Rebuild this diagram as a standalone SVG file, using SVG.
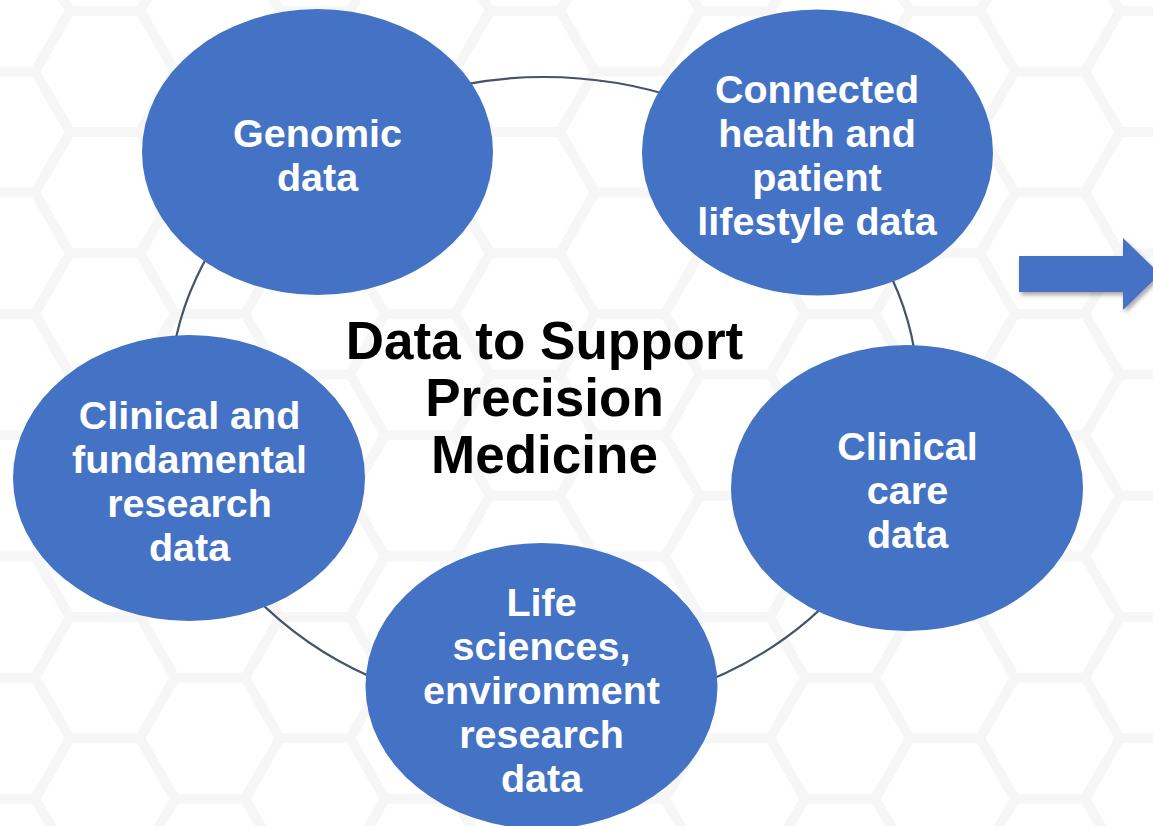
<svg xmlns="http://www.w3.org/2000/svg" width="1153" height="826" viewBox="0 0 1153 826">
  <defs>
    <!-- flat-top honeycomb, side 70 -->
    <pattern id="honeycomb" patternUnits="userSpaceOnUse" x="0" y="10.76" width="210" height="121.24">
      <path d="M70,0 H140 L175,60.62 L140,121.24 H70 L35,60.62 Z M175,60.62 H210 M0,60.62 H35" fill="none" stroke="#f6f6f6" stroke-width="10" stroke-linejoin="round"/>
    </pattern>
    <filter id="arrowShadow" x="-10%" y="-20%" width="130%" height="160%">
      <feDropShadow dx="2" dy="3" stdDeviation="2" flood-color="#000" flood-opacity="0.35"/>
    </filter>
    <style>
      .node { fill: #4472C4; }
      .label { font-family: "Liberation Sans", Arial, sans-serif; font-weight: bold; font-size: 39.5px; fill: #ffffff; text-anchor: middle; }
      .title { font-family: "Liberation Sans", Arial, sans-serif; font-weight: bold; font-size: 53px; fill: #000000; text-anchor: middle; }
      .ring { fill: none; stroke: #44546A; stroke-width: 2.2; }
    </style>
  </defs>

  <!-- background -->
  <rect width="1153" height="826" fill="#ffffff"/>
  <rect width="1153" height="826" fill="url(#honeycomb)"/>

  <!-- connecting ring -->
  <g id="connectors">
    <ellipse class="ring" cx="544" cy="395" rx="374" ry="318"/>
  </g>

  <!-- centre title -->
  <g id="title">
    <text class="title" x="544.5" y="359">Data to Support</text>
    <text class="title" x="544.5" y="416">Precision</text>
    <text class="title" x="544.5" y="473">Medicine</text>
  </g>

  <g id="genomic">
    <ellipse class="node" cx="317.5" cy="152" rx="175.5" ry="143"/>
    <text class="label" x="317.5" y="147">Genomic</text>
    <text class="label" x="317.5" y="191">data</text>
  </g>

  <g id="connected-health">
    <ellipse class="node" cx="817.5" cy="152.5" rx="175.5" ry="143"/>
    <text class="label" x="817" y="103">Connected</text>
    <text class="label" x="817" y="147">health and</text>
    <text class="label" x="817" y="191">patient</text>
    <text class="label" x="817" y="235">lifestyle data</text>
  </g>

  <g id="clinical-care">
    <ellipse class="node" cx="907" cy="488" rx="176" ry="143"/>
    <text class="label" x="907.5" y="460">Clinical</text>
    <text class="label" x="907.5" y="504">care</text>
    <text class="label" x="907.5" y="548">data</text>
  </g>

  <g id="life-sciences">
    <ellipse class="node" cx="541.5" cy="686" rx="176" ry="143"/>
    <text class="label" x="541.5" y="616">Life</text>
    <text class="label" x="541.5" y="660">sciences,</text>
    <text class="label" x="541.5" y="704">environment</text>
    <text class="label" x="541.5" y="748">research</text>
    <text class="label" x="541.5" y="792">data</text>
  </g>

  <g id="clinical-research">
    <ellipse class="node" cx="189" cy="478" rx="176" ry="143"/>
    <text class="label" x="189.5" y="429">Clinical and</text>
    <text class="label" x="189.5" y="473">fundamental</text>
    <text class="label" x="189.5" y="517">research</text>
    <text class="label" x="189.5" y="561">data</text>
  </g>

  <!-- outgoing block arrow -->
  <g id="arrow">
    <polygon class="node" filter="url(#arrowShadow)" points="1019,256 1123,256 1123,238 1160,274 1123,310 1123,292 1019,292"/>
  </g>
</svg>
